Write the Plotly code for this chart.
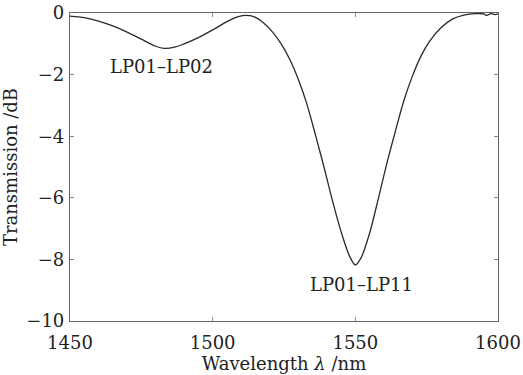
import plotly.graph_objects as go

wavelength = [1450, 1455, 1460, 1465, 1470, 1475, 1480, 1483, 1487, 1490, 1495, 1500,
              1505, 1509, 1512, 1515, 1518, 1521, 1524, 1527, 1530, 1533, 1536, 1539,
              1542, 1545, 1548, 1550, 1552, 1555, 1558, 1561, 1564, 1567, 1570,
              1573, 1576, 1580, 1584, 1588, 1592, 1595, 1596, 1597.5, 1599, 1600]
transmission = [-0.10, -0.15, -0.26, -0.42, -0.62, -0.85, -1.08, -1.15, -1.10, -1.00, -0.80, -0.55,
                -0.28, -0.12, -0.08, -0.14, -0.33, -0.62, -1.00, -1.50, -2.15, -2.95, -3.95, -5.00,
                -6.10, -7.10, -7.90, -8.18, -7.95, -7.15, -6.05, -4.90, -3.85, -2.85, -2.05,
                -1.40, -0.92, -0.48, -0.20, -0.07, -0.02, -0.03, -0.08, -0.02, -0.05, -0.03]

x_ticks = [1450, 1500, 1550, 1600]
y_ticks = [0, -2, -4, -6, -8, -10]
y_tick_labels = ["0", "\u22122", "\u22124", "\u22126", "\u22128", "\u221210"]

annotations_text = ["LP01\u2013LP02", "LP01\u2013LP11"]
annotations_pos = [(1482, -1.75), (1552, -8.8)]

font_family = "DejaVu Serif"
fsize = 18

fig = go.Figure()
fig.add_trace(go.Scatter(
    x=wavelength, y=transmission, mode="lines",
    line=dict(color="#2a2a2a", width=1.3, shape="spline", smoothing=0.8),
    showlegend=False, hoverinfo="skip"))

for txt, (ax, ay) in zip(annotations_text, annotations_pos):
    fig.add_annotation(x=ax, y=ay, text=txt, showarrow=False,
                       font=dict(family=font_family, size=fsize, color="#222"))

axis_common = dict(
    showgrid=False, zeroline=False, showline=True, mirror="ticks",
    linecolor="#666", linewidth=1.2, ticks="inside", ticklen=4,
    tickcolor="#888", tickwidth=1, automargin=False,
    tickfont=dict(family=font_family, size=fsize, color="#222"),
)

fig.update_xaxes(range=[1450, 1600], tickvals=x_ticks, ticklabelstandoff=5,
                 title=dict(text="Wavelength <i>\u03bb</i> /nm",
                            font=dict(family=font_family, size=fsize, color="#222"),
                            standoff=0),
                 **axis_common)
fig.update_yaxes(range=[-10, 0], tickvals=y_ticks, ticktext=y_tick_labels,
                 ticklabelstandoff=1,
                 title=dict(text="Transmission /dB",
                            font=dict(family=font_family, size=fsize, color="#222"),
                            standoff=6),
                 **axis_common)

fig.update_layout(
    width=523, height=375,
    margin=dict(l=70, r=25, t=13, b=54),
    paper_bgcolor="white", plot_bgcolor="white",
    font=dict(family=font_family),
)

fig.write_html("out.html")
